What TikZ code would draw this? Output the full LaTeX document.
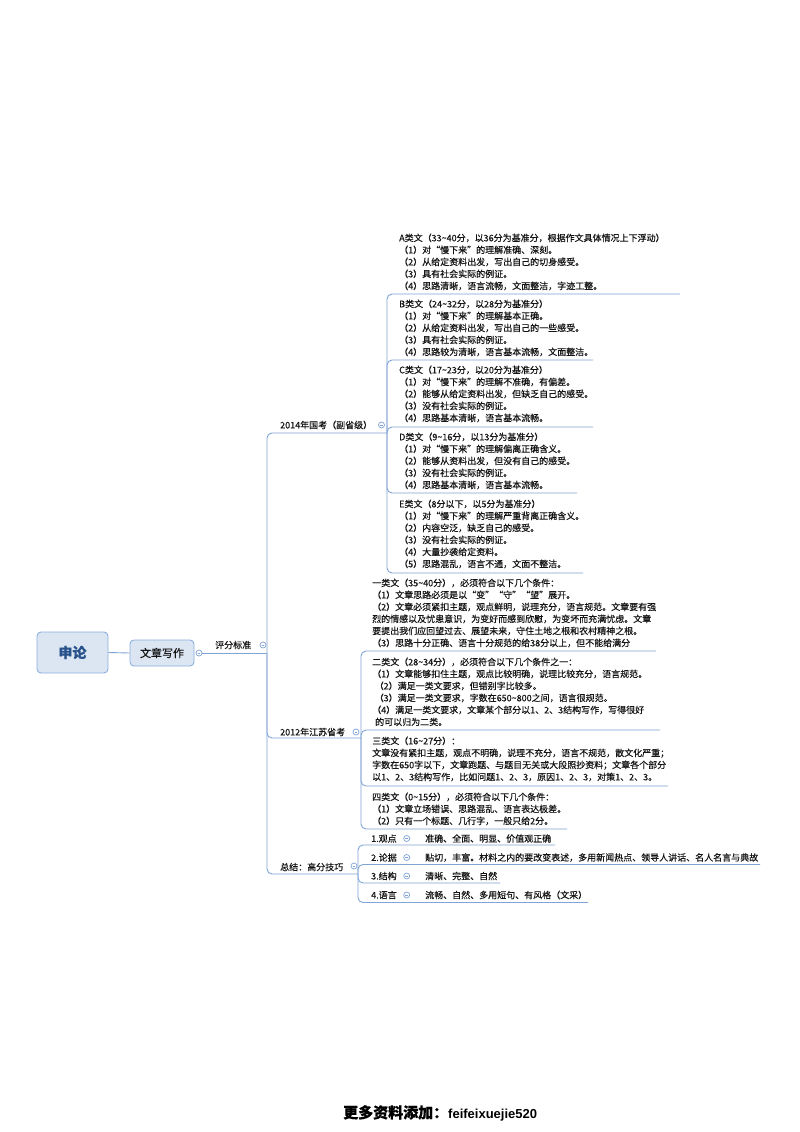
\documentclass[tikz,border=0pt]{standalone}
\usepackage{fontspec}
\setmainfont{Noto Sans CJK SC}[FakeBold=0.35]
\newfontfamily\latinfont{Liberation Sans}
\definecolor{lineblue}{RGB}{128,164,214}
\definecolor{boxfill}{RGB}{220,230,243}
\definecolor{boxline}{RGB}{140,175,222}
\definecolor{txt}{RGB}{20,20,20}
\definecolor{rootblue}{RGB}{40,82,140}
\newcommand{\tld}{\textasciitilde}
\begin{document}
\begin{tikzpicture}[x=1pt,y=-1pt,
 conn/.style={draw=lineblue, line width=0.9pt, rounded corners=5pt},
 blk/.style={anchor=north west, inner sep=0pt, align=left, font=\fontsize{9}{12}\selectfont, text=txt, yshift=4.6pt, execute at begin node={\rule{0pt}{8pt}}},
 lbl/.style={anchor=west, inner sep=0pt, font=\fontsize{9}{12}\selectfont, text=txt},
 knob/.style={circle, draw=lineblue, fill=white, line width=0.7pt, minimum size=6pt, inner sep=0pt,
   path picture={\draw[lineblue, line width=0.5pt] ([xshift=-1.3pt]path picture bounding box.center) -- ([xshift=1.3pt]path picture bounding box.center);}},
 topbox/.style={draw=boxline, fill=boxfill, rounded corners=4pt, line width=0.9pt, inner sep=0pt}
]
\useasboundingbox[fill=white] (0,0) rectangle (800,1132);

% ---- root and main topic
\node[topbox, minimum width=71pt, minimum height=41pt, font=\fontsize{14}{16}\selectfont\bfseries, text=rootblue] (shenlun) at (72.5,652.5) {申论};
\node[topbox, minimum width=64pt, minimum height=26pt, font=\fontsize{11}{13}\selectfont, text=txt] (wzxz) at (162,653) {文章写作};
\node[knob] (c1) at (199,653) {};

% ---- level labels
\node[lbl] (pfbz) at (215,645) {评分标准};
\node[knob] (k0) at (263,645) {};
\node[lbl] (g14) at (280,425) {2014年国考（副省级）};
\node[knob] (k14) at (381.5,425) {};
\node[lbl] (g12) at (280,732) {2012年江苏省考};
\node[knob] (k12) at (356,732) {};
\node[lbl] (zj) at (280,867) {总结：高分技巧};
\node[knob] (kzj) at (354,866) {};

% ---- junctions and underline ends
\coordinate (j0) at (267,653);
\coordinate (s14) at (387,433);
\coordinate (s12) at (361,738);
\coordinate (szj) at (358,874);
\coordinate (eA) at (680,294);
\coordinate (eB) at (593,360);
\coordinate (eC) at (593,427);
\coordinate (eD) at (577,493);
\coordinate (eE) at (583,573);
\coordinate (e1) at (656,651);
\coordinate (e2) at (660,730);
\coordinate (e3) at (668,786);
\coordinate (e4) at (567,829);
\coordinate (z1) at (555,845);
\coordinate (z2) at (760,864.5);
\coordinate (z3) at (500,883);
\coordinate (z4) at (588,902.5);

% ---- 2014 blocks
\node[blk] (tA) at (399,238) {A类文（33\tld40分，以36分为基准分，根据作文具体情况上下浮动）\\（1）对“慢下来”的理解准确、深刻。\\（2）从给定资料出发，写出自己的切身感受。\\（3）具有社会实际的例证。\\（4）思路清晰，语言流畅，文面整洁，字迹工整。};
\node[blk] (tB) at (399,304) {B类文（24\tld32分，以28分为基准分）\\（1）对“慢下来”的理解基本正确。\\（2）从给定资料出发，写出自己的一些感受。\\（3）具有社会实际的例证。\\（4）思路较为清晰，语言基本流畅，文面整洁。};
\node[blk] (tC) at (399,370) {C类文（17\tld23分，以20分为基准分）\\（1）对“慢下来”的理解不准确，有偏差。\\（2）能够从给定资料出发，但缺乏自己的感受。\\（3）没有社会实际的例证。\\（4）思路基本清晰，语言基本流畅。};
\node[blk] (tD) at (399,437) {D类文（9\tld16分，以13分为基准分）\\（1）对“慢下来”的理解偏离正确含义。\\（2）能够从资料出发，但没有自己的感受。\\（3）没有社会实际的例证。\\（4）思路基本清晰，语言基本流畅。};
\node[blk] (tE) at (399,504) {E类文（8分以下，以5分为基准分）\\（1）对“慢下来”的理解严重背离正确含义。\\（2）内容空泛，缺乏自己的感受。\\（3）没有社会实际的例证。\\（4）大量抄袭给定资料。\\（5）思路混乱，语言不通，文面不整洁。};

% ---- 2012 blocks
\node[blk] (t1) at (372,583) {一类文（35\tld40分），必须符合以下几个条件：\\（1）文章思路必须是以“变”“守”“望”展开。\\（2）文章必须紧扣主题，观点鲜明，说理充分，语言规范。文章要有强\\烈的情感以及忧患意识，为变好而感到欣慰，为变坏而充满忧虑。文章\\要提出我们应回望过去、展望未来，守住土地之根和农村精神之根。\\（3）思路十分正确、语言十分规范的给38分以上，但不能给满分};
\node[blk] (t2) at (372,662) {二类文（28\tld34分），必须符合以下几个条件之一：\\（1）文章能够扣住主题，观点比较明确，说理比较充分，语言规范。\\\hspace*{2.5pt}（2）满足一类文要求，但错别字比较多。\\\hspace*{2.5pt}（3）满足一类文要求，字数在650\tld800之间，语言很规范。\\（4）满足一类文要求，文章某个部分以1、2、3结构写作，写得很好\\\hspace*{3pt}的可以归为二类。};
\node[blk] (t3) at (372,741) {三类文（16\tld27分）：\\文章没有紧扣主题，观点不明确，说理不充分，语言不规范，散文化严重；\\字数在650字以下，文章跑题、与题目无关或大段照抄资料；文章各个部分\\以1、2、3结构写作，比如问题1、2、3，原因1、2、3，对策1、2、3。};
\node[blk] (t4) at (372,797) {四类文（0\tld15分），必须符合以下几个条件：\\（1）文章立场错误、思路混乱、语言表达极差。\\（2）只有一个标题、几行字，一般只给2分。};

% ---- summary rows
\node[lbl] (r1) at (371,838.5) {1.观点};
\node[knob] (kr1) at (406.7,838.5) {};
\node[lbl] (d1) at (425,838.5) {准确、全面、明显、价值观正确};
\node[lbl] (r2) at (371,857.5) {2.论据};
\node[knob] (kr2) at (406.7,857.5) {};
\node[lbl] (d2) at (425,857.5) {贴切，丰富。材料之内的要改变表述，多用新闻热点、领导人讲话、名人名言与典故};
\node[lbl] (r3) at (371,876) {3.结构};
\node[knob] (kr3) at (406.7,876) {};
\node[lbl] (d3) at (425,876) {清晰、完整、自然};
\node[lbl] (r4) at (371,895) {4.语言};
\node[knob] (kr4) at (406.7,895) {};
\node[lbl] (d4) at (425,895) {流畅、自然、多用短句、有风格（文采）};

% ---- connectors
\draw[conn] (shenlun.east) -- (wzxz.west);
\draw[conn] (c1.east) -- (j0);
\draw[conn] (j0) |- (s14);
\draw[conn] (j0) |- (s12);
\draw[conn] (j0) |- (szj);
\foreach \e in {eA,eB,eC,eD,eE} \draw[conn] (s14) |- (\e);
\foreach \e in {e1,e2,e3,e4} \draw[conn] (s12) |- (\e);
\foreach \e in {z1,z2,z3,z4} \draw[conn] (szj) |- (\e);

% ---- footer
\node[anchor=west, inner sep=0pt, text=black] (foot) at (343,1113) {{\fontsize{15}{17}\selectfont\bfseries 更多资料添加：}{\latinfont\fontsize{13}{15}\selectfont\bfseries feifeixuejie520}};
\end{tikzpicture}
\end{document}
